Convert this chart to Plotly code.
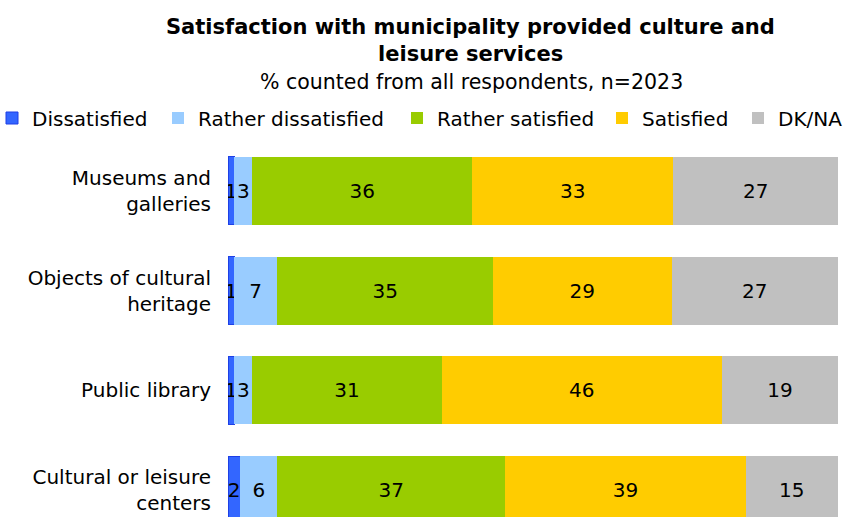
import plotly.graph_objects as go

# Survey results, % of respondents (n=2023)
categories = [
    "Museums and<br>galleries",
    "Objects of cultural<br>heritage",
    "Public library",
    "Cultural or leisure<br>centers",
]
series_names = ["Dissatisfied", "Rather dissatisfied", "Rather satisfied", "Satisfied", "DK/NA"]
dissatisfied = [1, 1, 1, 2]
rather_dissatisfied = [3, 7, 3, 6]
rather_satisfied = [36, 35, 31, 37]
satisfied = [33, 29, 46, 39]
dk_na = [27, 27, 19, 15]

series_values = [dissatisfied, rather_dissatisfied, rather_satisfied, satisfied, dk_na]
colors = ["#3366FF", "#99CCFF", "#99CC00", "#FFCC00", "#C0C0C0"]
line_colors = ["#1E3FE6", None, None, None, None]

W, H = 845, 517
M_L, M_R, M_T, M_B = 228, 7, 141, 0
FONT = "DejaVu Sans"

# left edge (px) of each legend label
legend_text_x = [32, 198, 437, 642, 778]
LEGEND_Y = 118

fig = go.Figure()
legend_ids = ["legend"] + [f"legend{i}" for i in range(2, len(series_names) + 1)]
for name, vals, col, lc, lid in zip(series_names, series_values, colors, line_colors, legend_ids):
    fig.add_trace(go.Bar(
        name=name,
        y=categories,
        x=vals,
        orientation="h",
        text=vals,
        texttemplate="%{text}",
        textposition="inside",
        insidetextanchor="middle",
        constraintext="none",
        textangle=0,
        textfont=dict(family=FONT, size=20, color="black"),
        marker=dict(color=col, line=dict(color=lc or col, width=1 if lc else 0)),
        legend=lid,
    ))

plot_h = H - M_T - M_B


def py(px):
    """Convert a pixel row (from top of page) into paper y."""
    return (H - M_B - px) / plot_h


def px_x(px):
    return (px - M_L) / (W - M_L - M_R)


legends = {}
for lid, tx in zip(legend_ids, legend_text_x):
    legends[lid] = dict(
        orientation="h",
        xref="paper", yref="container",
        x=px_x(tx - 40), y=1 - LEGEND_Y / H,
        xanchor="left", yanchor="middle",
        font=dict(family=FONT, size=20, color="black"),
        itemwidth=30,
        bgcolor="rgba(0,0,0,0)",
    )

fig.update_layout(
    width=W,
    height=H,
    margin=dict(l=M_L, r=M_R, t=M_T, b=M_B, pad=0, autoexpand=False),
    barmode="stack",
    barnorm="percent",
    bargap=0.32,
    plot_bgcolor="white",
    paper_bgcolor="white",
    font=dict(family=FONT, size=20, color="black"),
    showlegend=True,
    xaxis=dict(
        range=[0, 100],
        visible=False,
        fixedrange=True,
    ),
    yaxis=dict(
        type="category",
        range=[3.27, -0.5],
        showline=False,
        showgrid=False,
        ticks="",
        ticklabelstandoff=16,
        tickfont=dict(family=FONT, size=20, color="black"),
    ),
    annotations=[
        dict(text="<b>Satisfaction with municipality provided culture and</b>",
             xref="paper", yref="paper", x=px_x(470), y=py(27),
             xanchor="center", yanchor="middle", showarrow=False,
             font=dict(family=FONT, size=21, color="black")),
        dict(text="<b>leisure services</b>",
             xref="paper", yref="paper", x=px_x(470), y=py(54),
             xanchor="center", yanchor="middle", showarrow=False,
             font=dict(family=FONT, size=21, color="black")),
        dict(text="% counted from all respondents, n=2023",
             xref="paper", yref="paper", x=px_x(471), y=py(82),
             xanchor="center", yanchor="middle", showarrow=False,
             font=dict(family=FONT, size=20.5, color="black")),
    ],
    **legends,
)

fig.write_html("out.html")
